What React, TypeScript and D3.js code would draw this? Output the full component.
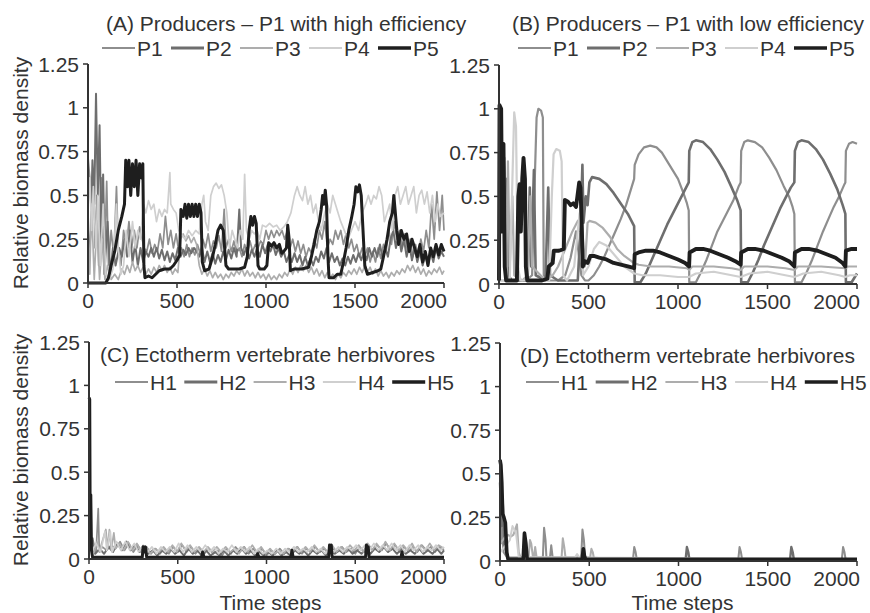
import React from 'react';
import * as d3 from 'd3';

type Pt = [number, number];

// ---------- categories / ticks ----------
const producerNames = ['P1', 'P2', 'P3', 'P4', 'P5'];
const herbivoreNames = ['H1', 'H2', 'H3', 'H4', 'H5'];
const xTickValues = [0, 500, 1000, 1500, 2000];
const yTickValues = [0, 0.25, 0.5, 0.75, 1, 1.25];
const titleA = '(A) Producers – P1 with high efficiency';
const titleB = '(B) Producers – P1 with low efficiency';
const titleC = '(C) Ectotherm vertebrate herbivores';
const titleD = '(D) Ectotherm vertebrate herbivores';
const yAxisLabel = 'Relative biomass density';
const xAxisLabel = 'Time steps';

// ---------- (A) producers, high efficiency ----------
const A_P1: Pt[] = [[0,0.72],[10,0.6],[20,0.35],[30,0.65],[40,0.2],[50,0.5],[60,0.1],[75,0.6],[90,0.05],[105,0.58],[115,0.1],[130,0.3],[145,0.15],[160,0.55],[170,0.2],[185,0.1],[200,0.3],[215,0.2],[230,0.35],[245,0.2],[260,0.3],[275,0.2],[290,0.32],[305,0.25],[315,0.2],[330,0.18],[345,0.25],[360,0.17],[375,0.22],[390,0.18],[405,0.28],[420,0.2],[435,0.38],[450,0.22],[465,0.3],[480,0.2],[495,0.28],[510,0.18],[525,0.2],[540,0.15],[555,0.22],[570,0.15],[585,0.2],[600,0.16],[615,0.22],[630,0.17],[645,0.25],[660,0.2],[675,0.28],[690,0.18],[705,0.24],[720,0.2],[735,0.27],[750,0.18],[765,0.42],[775,0.2],[790,0.25],[805,0.18],[820,0.24],[835,0.17],[850,0.2],[865,0.15],[880,0.22],[895,0.17],[910,0.24],[925,0.18],[940,0.22],[955,0.2],[970,0.24],[985,0.22],[1000,0.3],[1015,0.25],[1030,0.3],[1045,0.26],[1060,0.3],[1075,0.27],[1090,0.3],[1105,0.25],[1120,0.3],[1135,0.2],[1150,0.25],[1165,0.18],[1180,0.24],[1195,0.17],[1210,0.22],[1225,0.15],[1240,0.2],[1255,0.17],[1270,0.25],[1285,0.2],[1300,0.3],[1315,0.25],[1330,0.35],[1345,0.2],[1360,0.25],[1375,0.22],[1390,0.3],[1405,0.25],[1420,0.3],[1435,0.22],[1450,0.28],[1465,0.2],[1480,0.25],[1495,0.18],[1510,0.22],[1525,0.15],[1540,0.2],[1555,0.15],[1570,0.2],[1585,0.12],[1600,0.18],[1615,0.12],[1630,0.2],[1645,0.14],[1660,0.22],[1675,0.18],[1690,0.3],[1705,0.22],[1720,0.35],[1735,0.25],[1750,0.3],[1765,0.2],[1780,0.28],[1795,0.18],[1810,0.25],[1825,0.15],[1840,0.22],[1855,0.15],[1870,0.25],[1885,0.18],[1900,0.3],[1915,0.2],[1930,0.45],[1945,0.25],[1960,0.52],[1975,0.3],[1990,0.5],[2000,0.3]];
const A_P2: Pt[] = [[0,0.05],[15,0.3],[25,0.7],[35,0.45],[45,1.08],[55,0.5],[65,0.9],[75,0.2],[85,0.62],[95,0.1],[110,0.35],[125,0.05],[140,0.2],[155,0.1],[175,0.2],[190,0.15],[205,0.25],[220,0.15],[235,0.3],[250,0.12],[265,0.22],[280,0.1],[295,0.2],[310,0.12],[325,0.18],[340,0.15],[355,0.2],[370,0.15],[385,0.2],[400,0.14],[415,0.19],[430,0.13],[445,0.18],[460,0.12],[475,0.17],[490,0.13],[505,0.2],[520,0.15],[535,0.19],[550,0.16],[565,0.2],[580,0.17],[595,0.2],[610,0.18],[625,0.15],[640,0.2],[655,0.12],[670,0.18],[685,0.12],[700,0.17],[715,0.11],[730,0.16],[745,0.12],[760,0.18],[775,0.13],[790,0.19],[805,0.14],[820,0.2],[835,0.15],[850,0.42],[860,0.2],[875,0.16],[890,0.2],[905,0.14],[920,0.19],[935,0.15],[950,0.2],[965,0.15],[980,0.22],[995,0.17],[1010,0.22],[1025,0.18],[1040,0.22],[1055,0.16],[1070,0.2],[1085,0.15],[1100,0.18],[1115,0.12],[1130,0.16],[1145,0.12],[1160,0.17],[1175,0.12],[1190,0.16],[1205,0.1],[1220,0.15],[1235,0.1],[1250,0.14],[1265,0.1],[1280,0.15],[1295,0.12],[1310,0.18],[1325,0.14],[1340,0.2],[1355,0.12],[1370,0.17],[1385,0.12],[1400,0.15],[1415,0.1],[1430,0.14],[1445,0.1],[1460,0.15],[1475,0.11],[1490,0.16],[1505,0.12],[1520,0.17],[1535,0.13],[1550,0.18],[1565,0.13],[1580,0.2],[1595,0.15],[1610,0.2],[1625,0.15],[1640,0.22],[1655,0.14],[1670,0.2],[1685,0.15],[1700,0.25],[1715,0.3],[1730,0.2],[1745,0.28],[1760,0.18],[1775,0.25],[1790,0.15],[1805,0.22],[1820,0.13],[1835,0.2],[1850,0.12],[1865,0.18],[1880,0.1],[1895,0.16],[1910,0.1],[1925,0.18],[1940,0.12],[1955,0.2],[1970,0.14],[1985,0.18],[2000,0.15]];
const A_P3: Pt[] = [[0,0.3],[10,0.05],[20,0.45],[35,0.02],[50,0.35],[65,0.02],[80,0.25],[95,0.02],[110,0.1],[130,0.02],[150,0.05],[170,0.02],[190,0.08],[205,0.05],[220,0.1],[235,0.06],[250,0.12],[265,0.07],[280,0.1],[295,0.06],[310,0.09],[325,0.05],[340,0.08],[355,0.05],[370,0.09],[385,0.06],[400,0.1],[415,0.07],[430,0.1],[445,0.06],[460,0.09],[475,0.05],[490,0.08],[505,0.06],[520,0.25],[535,0.28],[550,0.24],[565,0.27],[580,0.23],[595,0.26],[610,0.22],[625,0.1],[640,0.05],[655,0.08],[670,0.04],[685,0.07],[700,0.03],[715,0.06],[730,0.03],[745,0.05],[760,0.02],[775,0.05],[790,0.03],[805,0.06],[820,0.04],[835,0.07],[850,0.05],[865,0.08],[880,0.04],[895,0.07],[910,0.04],[925,0.06],[940,0.03],[955,0.06],[970,0.03],[985,0.05],[1000,0.02],[1015,0.05],[1030,0.02],[1045,0.04],[1060,0.02],[1075,0.05],[1090,0.03],[1105,0.06],[1120,0.04],[1135,0.08],[1150,0.05],[1165,0.09],[1180,0.06],[1195,0.1],[1210,0.07],[1225,0.1],[1240,0.06],[1255,0.09],[1270,0.05],[1285,0.08],[1300,0.04],[1315,0.07],[1330,0.03],[1345,0.06],[1360,0.03],[1375,0.05],[1390,0.02],[1405,0.05],[1420,0.03],[1435,0.06],[1450,0.04],[1465,0.07],[1480,0.05],[1495,0.08],[1510,0.05],[1525,0.09],[1540,0.06],[1555,0.1],[1570,0.06],[1585,0.09],[1600,0.05],[1615,0.08],[1630,0.04],[1645,0.07],[1660,0.04],[1675,0.06],[1690,0.03],[1705,0.06],[1720,0.04],[1735,0.07],[1750,0.05],[1765,0.08],[1780,0.06],[1795,0.1],[1810,0.07],[1825,0.1],[1840,0.06],[1855,0.09],[1870,0.05],[1885,0.08],[1900,0.04],[1915,0.07],[1930,0.05],[1945,0.08],[1960,0.06],[1975,0.09],[1990,0.05],[2000,0.07]];
const A_P4: Pt[] = [[0,0.45],[10,0.6],[20,0.3],[30,0.55],[45,0.2],[55,0.5],[70,0.1],[85,0.45],[100,0.05],[120,0.02],[140,0.08],[160,0.45],[170,0.2],[185,0.05],[200,0.1],[215,0.3],[230,0.15],[250,0.35],[265,0.2],[280,0.3],[295,0.25],[312,0.45],[325,0.4],[340,0.47],[355,0.42],[370,0.45],[385,0.35],[400,0.42],[415,0.38],[430,0.42],[445,0.4],[455,0.55],[460,0.63],[465,0.45],[480,0.42],[495,0.4],[510,0.3],[525,0.28],[545,0.25],[565,0.3],[585,0.27],[605,0.3],[625,0.28],[640,0.45],[650,0.5],[660,0.35],[675,0.3],[690,0.5],[705,0.55],[720,0.57],[735,0.54],[750,0.56],[765,0.5],[780,0.4],[795,0.2],[810,0.3],[825,0.25],[840,0.2],[855,0.3],[870,0.25],[880,0.62],[890,0.3],[905,0.25],[920,0.3],[935,0.28],[950,0.3],[965,0.25],[980,0.33],[1000,0.32],[1020,0.34],[1040,0.32],[1060,0.33],[1080,0.3],[1100,0.32],[1120,0.35],[1140,0.4],[1160,0.5],[1175,0.55],[1190,0.5],[1205,0.47],[1220,0.55],[1235,0.45],[1250,0.5],[1265,0.4],[1280,0.45],[1295,0.35],[1310,0.3],[1330,0.4],[1345,0.45],[1360,0.4],[1375,0.5],[1390,0.45],[1405,0.4],[1420,0.35],[1440,0.3],[1460,0.25],[1480,0.3],[1500,0.35],[1520,0.3],[1540,0.4],[1560,0.45],[1575,0.5],[1590,0.45],[1605,0.5],[1620,0.48],[1635,0.55],[1650,0.5],[1665,0.35],[1680,0.4],[1695,0.45],[1710,0.3],[1725,0.5],[1740,0.55],[1755,0.45],[1770,0.5],[1785,0.55],[1800,0.45],[1815,0.5],[1830,0.55],[1845,0.4],[1860,0.5],[1875,0.53],[1890,0.45],[1905,0.52],[1920,0.4],[1935,0.5],[1950,0.35],[1965,0.45],[1980,0.38],[2000,0.4]];
const A_P5: Pt[] = [[0,0],[100,0],[115,0.03],[130,0.1],[150,0.18],[170,0.3],[190,0.38],[205,0.45],[212,0.7],[222,0.55],[230,0.7],[240,0.5],[250,0.68],[260,0.55],[270,0.7],[280,0.5],[290,0.68],[300,0.6],[308,0.68],[314,0.1],[320,0.03],[340,0.04],[360,0.03],[380,0.05],[400,0.07],[430,0.08],[460,0.08],[480,0.1],[500,0.13],[515,0.16],[522,0.42],[535,0.38],[545,0.45],[555,0.37],[565,0.45],[575,0.38],[585,0.45],[595,0.38],[605,0.45],[615,0.38],[625,0.45],[635,0.4],[642,0.12],[655,0.07],[680,0.08],[700,0.15],[715,0.22],[730,0.3],[745,0.33],[760,0.3],[775,0.1],[790,0.08],[820,0.08],[850,0.08],[880,0.09],[895,0.15],[905,0.3],[915,0.38],[925,0.33],[935,0.38],[945,0.34],[955,0.1],[965,0.08],[990,0.08],[1005,0.1],[1015,0.23],[1030,0.21],[1045,0.23],[1060,0.2],[1075,0.22],[1088,0.17],[1100,0.18],[1115,0.2],[1122,0.33],[1130,0.25],[1137,0.07],[1160,0.08],[1200,0.08],[1240,0.09],[1255,0.15],[1270,0.22],[1285,0.3],[1300,0.35],[1310,0.42],[1318,0.5],[1325,0.45],[1333,0.53],[1340,0.45],[1348,0.15],[1354,0.03],[1380,0.03],[1400,0.05],[1420,0.05],[1435,0.12],[1450,0.2],[1465,0.3],[1480,0.37],[1495,0.45],[1505,0.55],[1515,0.52],[1525,0.56],[1535,0.5],[1545,0.3],[1555,0.1],[1570,0.05],[1600,0.06],[1630,0.07],[1645,0.08],[1660,0.15],[1680,0.25],[1695,0.35],[1710,0.4],[1718,0.5],[1725,0.42],[1735,0.3],[1745,0.22],[1760,0.3],[1775,0.25],[1790,0.28],[1805,0.18],[1820,0.25],[1835,0.2],[1850,0.15],[1865,0.22],[1880,0.12],[1895,0.18],[1910,0.1],[1925,0.2],[1940,0.15],[1955,0.22],[1970,0.16],[1985,0.22],[2000,0.18]];

// ---------- (B) producers, low efficiency ----------
const B_P1: Pt[] = [[0,0.02],[10,0.75],[20,0.3],[30,0.72],[40,0.05],[60,0.02],[150,0.02],[185,0.05],[200,0.6],[210,0.95],[220,1.0],[235,0.99],[245,0.95],[250,0.05],[270,0.02],[330,0.02],[370,0.05],[400,0.15],[430,0.3],[460,0.05],[480,0.02],[500,0.02],[530,0.05],[560,0.1],[590,0.16],[620,0.23],[650,0.3],[680,0.37],[710,0.45],[740,0.55],[755,0.6],[758,0.68],[780,0.74],[810,0.78],[845,0.79],[880,0.78],[910,0.75],[940,0.7],[970,0.65],[1000,0.6],[1030,0.52],[1050,0.46],[1060,0.42],[1063,0.01],[1100,0.01],[1130,0.07],[1160,0.14],[1190,0.22],[1220,0.3],[1250,0.36],[1280,0.42],[1310,0.48],[1340,0.56],[1350,0.58],[1353,0.76],[1370,0.81],[1390,0.82],[1430,0.81],[1470,0.78],[1510,0.72],[1550,0.65],[1590,0.56],[1620,0.5],[1640,0.44],[1650,0.4],[1653,0.01],[1690,0.01],[1720,0.07],[1750,0.14],[1780,0.22],[1810,0.3],[1840,0.37],[1870,0.44],[1900,0.5],[1930,0.57],[1935,0.58],[1938,0.76],[1955,0.8],[1975,0.81],[2000,0.8]];
const B_P2: Pt[] = [[0,0.05],[5,0.76],[15,0.7],[25,0.76],[35,0.2],[45,0.6],[55,0.05],[70,0.02],[160,0.02],[172,0.55],[180,0.1],[195,0.65],[205,0.05],[260,0.02],[275,0.55],[285,0.05],[330,0.02],[440,0.02],[455,0.3],[466,0.68],[472,0.35],[485,0.5],[495,0.45],[505,0.58],[520,0.61],[560,0.6],[600,0.57],[640,0.52],[680,0.46],[720,0.4],[750,0.34],[755,0.33],[758,0.01],[790,0.01],[820,0.06],[850,0.13],[880,0.2],[910,0.27],[940,0.34],[970,0.4],[1000,0.46],[1030,0.52],[1060,0.58],[1063,0.76],[1080,0.81],[1100,0.82],[1140,0.81],[1180,0.77],[1220,0.71],[1260,0.64],[1300,0.55],[1330,0.48],[1350,0.42],[1353,0.01],[1390,0.01],[1420,0.07],[1450,0.14],[1480,0.22],[1510,0.29],[1540,0.36],[1570,0.43],[1600,0.49],[1630,0.55],[1650,0.58],[1653,0.76],[1670,0.81],[1690,0.82],[1730,0.81],[1770,0.77],[1810,0.71],[1850,0.63],[1890,0.54],[1920,0.45],[1935,0.4],[1938,0.01],[1970,0.01],[2000,0.06]];
const B_P3: Pt[] = [[0,0.02],[40,0.02],[50,0.7],[60,0.1],[75,0.5],[85,0.05],[130,0.02],[160,0.05],[175,0.5],[185,0.1],[260,0.02],[300,0.05],[330,0.1],[370,0.2],[410,0.3],[440,0.36],[460,0.38],[480,0.1],[495,0.35],[505,0.36],[540,0.35],[580,0.32],[620,0.27],[660,0.2],[700,0.16],[740,0.13],[755,0.12],[780,0.11],[850,0.1],[950,0.1],[1050,0.09],[1062,0.08],[1080,0.1],[1200,0.1],[1300,0.09],[1350,0.08],[1370,0.1],[1500,0.1],[1600,0.09],[1650,0.08],[1670,0.1],[1800,0.1],[1935,0.09],[1950,0.1],[2000,0.1]];
const B_P4: Pt[] = [[0,0.02],[60,0.02],[75,0.6],[85,0.98],[95,0.9],[105,0.1],[120,0.02],[280,0.02],[295,0.5],[305,0.74],[320,0.77],[340,0.76],[350,0.7],[358,0.05],[380,0.02],[420,0.1],[450,0.4],[462,0.45],[470,0.05],[500,0.1],[530,0.2],[560,0.24],[600,0.22],[650,0.16],[700,0.1],[755,0.06],[800,0.05],[900,0.05],[1000,0.04],[1062,0.04],[1100,0.06],[1200,0.07],[1300,0.05],[1350,0.04],[1400,0.06],[1500,0.07],[1600,0.05],[1650,0.04],[1700,0.06],[1800,0.07],[1900,0.05],[1935,0.04],[1960,0.05],[2000,0.05]];
const B_P5: Pt[] = [[0,0.02],[3,1.02],[12,1.0],[18,0.3],[25,0.8],[32,0.1],[40,0.02],[100,0.02],[108,0.5],[115,0.57],[122,0.3],[130,0.6],[137,0.72],[145,0.6],[150,0.1],[158,0.02],[240,0.02],[270,0.03],[278,0.1],[300,0.12],[306,0.19],[335,0.19],[362,0.2],[368,0.48],[385,0.47],[400,0.45],[415,0.46],[430,0.44],[438,0.5],[448,0.58],[455,0.55],[462,0.35],[468,0.1],[480,0.13],[495,0.12],[510,0.16],[530,0.16],[560,0.15],[600,0.14],[640,0.12],[680,0.11],[720,0.1],[755,0.09],[758,0.17],[780,0.18],[820,0.19],[860,0.19],[900,0.18],[950,0.16],[1000,0.14],[1040,0.12],[1062,0.1],[1065,0.18],[1100,0.2],[1140,0.2],[1180,0.19],[1230,0.17],[1280,0.15],[1320,0.13],[1350,0.11],[1353,0.18],[1390,0.2],[1430,0.2],[1480,0.19],[1530,0.17],[1580,0.15],[1620,0.13],[1650,0.1],[1653,0.18],[1690,0.2],[1730,0.2],[1780,0.19],[1830,0.17],[1880,0.15],[1920,0.12],[1935,0.1],[1938,0.19],[1970,0.2],[2000,0.2]];

// ---------- (C) herbivores ----------
const C_H1: Pt[] = [[0,0.1],[10,0.05],[25,0.08],[40,0.04],[52,0.29],[58,0.04],[75,0.07],[100,0.05],[125,0.08],[150,0.06],[175,0.1],[200,0.05],[225,0.09],[250,0.04],[275,0.08],[300,0.04],[325,0.07],[350,0.03],[375,0.06],[400,0.03],[425,0.06],[450,0.03],[475,0.07],[500,0.04],[525,0.08],[550,0.04],[575,0.07],[600,0.03],[625,0.06],[650,0.03],[675,0.06],[700,0.03],[725,0.05],[750,0.02],[775,0.06],[800,0.03],[825,0.07],[850,0.04],[875,0.07],[900,0.03],[925,0.06],[950,0.03],[975,0.06],[1000,0.02],[1025,0.05],[1050,0.03],[1075,0.06],[1100,0.03],[1125,0.06],[1150,0.04],[1175,0.07],[1200,0.03],[1225,0.06],[1250,0.04],[1275,0.07],[1300,0.04],[1325,0.06],[1350,0.03],[1375,0.06],[1400,0.04],[1425,0.07],[1450,0.04],[1475,0.06],[1500,0.03],[1525,0.07],[1550,0.04],[1575,0.08],[1600,0.05],[1625,0.08],[1650,0.05],[1675,0.09],[1700,0.05],[1725,0.08],[1750,0.04],[1775,0.07],[1800,0.04],[1825,0.07],[1850,0.04],[1875,0.08],[1900,0.05],[1925,0.07],[1950,0.04],[1975,0.07],[2000,0.05]];
const C_H2: Pt[] = [[0,0.3],[6,0.05],[20,0.12],[35,0.03],[60,0.06],[85,0.03],[110,0.07],[135,0.04],[160,0.09],[185,0.05],[210,0.1],[235,0.05],[260,0.08],[285,0.04],[310,0.06],[335,0.03],[360,0.05],[385,0.02],[410,0.05],[435,0.03],[460,0.06],[485,0.03],[510,0.05],[535,0.02],[560,0.06],[585,0.03],[610,0.05],[635,0.02],[660,0.05],[685,0.02],[710,0.04],[735,0.02],[760,0.05],[785,0.02],[810,0.05],[835,0.03],[860,0.06],[885,0.03],[910,0.05],[935,0.02],[960,0.04],[985,0.02],[1010,0.04],[1035,0.02],[1060,0.05],[1085,0.02],[1110,0.04],[1135,0.02],[1160,0.05],[1185,0.03],[1210,0.05],[1235,0.02],[1260,0.05],[1285,0.03],[1310,0.05],[1335,0.02],[1360,0.05],[1385,0.03],[1410,0.05],[1435,0.03],[1460,0.06],[1485,0.03],[1510,0.05],[1535,0.03],[1560,0.06],[1585,0.03],[1610,0.06],[1635,0.04],[1660,0.07],[1685,0.04],[1710,0.06],[1735,0.03],[1760,0.06],[1785,0.03],[1810,0.05],[1835,0.03],[1860,0.06],[1885,0.03],[1910,0.05],[1935,0.03],[1960,0.06],[1985,0.03],[2000,0.05]];
const C_H3: Pt[] = [[0,0.05],[15,0.08],[30,0.04],[45,0.1],[60,0.05],[80,0.12],[95,0.17],[105,0.06],[115,0.17],[125,0.05],[140,0.15],[150,0.06],[170,0.09],[195,0.05],[220,0.1],[245,0.05],[270,0.09],[295,0.04],[320,0.07],[345,0.03],[370,0.06],[395,0.04],[420,0.07],[445,0.04],[470,0.08],[495,0.04],[520,0.09],[545,0.05],[570,0.08],[595,0.04],[620,0.07],[645,0.04],[670,0.07],[695,0.04],[720,0.07],[745,0.04],[770,0.07],[795,0.04],[820,0.06],[845,0.03],[870,0.07],[895,0.04],[920,0.08],[945,0.04],[970,0.07],[995,0.03],[1020,0.06],[1045,0.03],[1070,0.05],[1095,0.03],[1120,0.06],[1145,0.04],[1170,0.07],[1195,0.04],[1220,0.07],[1245,0.04],[1270,0.08],[1295,0.04],[1320,0.07],[1345,0.04],[1370,0.08],[1395,0.04],[1420,0.07],[1445,0.04],[1470,0.08],[1495,0.05],[1520,0.08],[1545,0.04],[1570,0.09],[1595,0.05],[1620,0.09],[1645,0.05],[1670,0.1],[1695,0.05],[1720,0.09],[1745,0.05],[1770,0.08],[1795,0.05],[1820,0.09],[1845,0.04],[1870,0.08],[1895,0.05],[1920,0.09],[1945,0.05],[1970,0.08],[2000,0.06]];
const C_H4: Pt[] = [[0,0.08],[20,0.05],[40,0.09],[65,0.04],[90,0.16],[100,0.05],[120,0.16],[130,0.04],[155,0.1],[180,0.05],[205,0.1],[230,0.05],[255,0.09],[280,0.04],[305,0.08],[330,0.04],[355,0.07],[380,0.03],[405,0.07],[430,0.04],[455,0.07],[480,0.04],[505,0.09],[530,0.04],[555,0.08],[580,0.04],[605,0.07],[630,0.04],[655,0.08],[680,0.04],[705,0.07],[730,0.03],[755,0.06],[780,0.04],[805,0.08],[830,0.04],[855,0.07],[880,0.04],[905,0.07],[930,0.03],[955,0.06],[980,0.03],[1005,0.05],[1030,0.03],[1055,0.06],[1080,0.03],[1105,0.06],[1130,0.04],[1155,0.07],[1180,0.04],[1205,0.06],[1230,0.04],[1255,0.07],[1280,0.04],[1305,0.06],[1330,0.03],[1355,0.06],[1380,0.04],[1405,0.07],[1430,0.04],[1455,0.07],[1480,0.05],[1505,0.08],[1530,0.05],[1555,0.08],[1580,0.05],[1605,0.09],[1630,0.05],[1655,0.08],[1680,0.05],[1705,0.09],[1730,0.05],[1755,0.08],[1780,0.04],[1805,0.08],[1830,0.05],[1855,0.08],[1880,0.04],[1905,0.07],[1930,0.05],[1955,0.08],[1980,0.05],[2000,0.07]];
const C_H5: Pt[] = [[0,0.93],[4,0.92],[7,0.1],[10,0.37],[14,0.05],[20,0.01],[300,0.01],[305,0.07],[312,0.04],[318,0.07],[325,0.01],[635,0.01],[640,0.04],[648,0.01],[945,0.01],[950,0.03],[958,0.01],[1138,0.01],[1143,0.05],[1150,0.01],[1350,0.01],[1355,0.08],[1360,0.04],[1365,0.08],[1370,0.01],[1558,0.01],[1563,0.08],[1568,0.05],[1573,0.07],[1578,0.01],[1758,0.01],[1763,0.04],[1770,0.01],[2000,0.01]];

// ---------- (D) herbivores ----------
const D_H1: Pt[] = [[0,0.3],[5,0.1],[10,0.2],[20,0.05],[40,0.02],[240,0.02],[247,0.19],[255,0.12],[260,0.02],[280,0.02],[287,0.09],[295,0.02],[455,0.02],[462,0.18],[470,0.12],[477,0.02],[745,0.01],[752,0.08],[760,0.05],[766,0.01],[1335,0.01],[1342,0.08],[1350,0.05],[1356,0.01],[1915,0.01],[1922,0.08],[1930,0.05],[1936,0.01],[2000,0.01]];
const D_H2: Pt[] = [[0,0.45],[8,0.2],[15,0.35],[25,0.1],[35,0.05],[45,0.01],[1040,0.01],[1047,0.08],[1055,0.05],[1061,0.01],[1625,0.01],[1632,0.08],[1640,0.05],[1646,0.01],[2000,0.01]];
const D_H3: Pt[] = [[0,0.1],[30,0.14],[45,0.15],[60,0.14],[75,0.15],[95,0.21],[105,0.05],[115,0.02],[160,0.02],[168,0.12],[175,0.1],[185,0.02],[190,0.02],[197,0.08],[205,0.02],[345,0.02],[352,0.13],[360,0.08],[367,0.02],[505,0.02],[512,0.07],[520,0.05],[527,0.01],[2000,0.01]];
const D_H4: Pt[] = [[0,0.05],[40,0.1],[55,0.12],[70,0.2],[90,0.16],[105,0.02],[420,0.02],[432,0.04],[445,0.02],[2000,0.01]];
const D_H5: Pt[] = [[0,0.58],[5,0.55],[10,0.45],[15,0.27],[22,0.25],[30,0.22],[38,0.05],[45,0.01],[130,0.01],[137,0.16],[145,0.1],[152,0.01],[460,0.01],[467,0.07],[473,0.03],[480,0.01],[2000,0.01]];

// ---------- styling ----------
const seriesColors = ['#8e8e8e', '#6e6e6e', '#adadad', '#cfcfcf', '#1e1e1e'];
const seriesWidths = [1.7, 2, 1.7, 1.7, 3];
const legendWidths = [2, 3, 2, 2.2, 3.5];
const textColor = '#333';
const axisColor = '#333';
const FONT = '"Liberation Sans", Arial, Helvetica, sans-serif';

interface PanelProps {
  series: Pt[][];
  names: string[];
  title: string;
  x0: number; x1: number; yBottom: number; yTop: number;
  titleX: number; titleY: number;
  legendX: number; legendY: number; legendStep: number;
  lineScale: number;
  showXLabel: boolean;
}

function Panel(p: PanelProps) {
  const x = d3.scaleLinear().domain([0, 2000]).range([p.x0, p.x1]);
  const y = d3.scaleLinear().domain([0, 1.25]).range([p.yBottom, p.yTop]);
  const line = d3.line<Pt>().x(d => x(d[0])).y(d => y(d[1]));
  const fs = 21;
  return (
    <g>
      {p.series.map((s, i) => (
        <path key={i} d={line(s) || ''} fill="none" stroke={seriesColors[i]}
          strokeWidth={seriesWidths[i] * p.lineScale} strokeLinejoin="round" />
      ))}
      {/* axes */}
      <line x1={p.x0} x2={p.x0} y1={y(1.25)} y2={y(0)} stroke={axisColor} strokeWidth={2} />
      <line x1={p.x0} x2={p.x1} y1={y(0)} y2={y(0)} stroke={axisColor} strokeWidth={2} />
      {yTickValues.map(v => (
        <g key={'y' + v}>
          <line x1={p.x0 - 5} x2={p.x0} y1={y(v)} y2={y(v)} stroke={axisColor} strokeWidth={1.5} />
          <text x={p.x0 - 9} y={y(v)} dy="0.36em" textAnchor="end" fontSize={fs} fill={textColor} fontFamily={FONT}>{String(v)}</text>
        </g>
      ))}
      {xTickValues.map((v, i) => {
        const last = i === xTickValues.length - 1;
        return (
          <g key={'x' + v}>
            <line x1={x(v)} x2={x(v)} y1={y(0)} y2={y(0) + 5} stroke={axisColor} strokeWidth={1.5} />
            <text x={last ? x(v) + 3 : x(v)} y={y(0) + 25} textAnchor={last ? 'end' : 'middle'} fontSize={fs} fill={textColor} fontFamily={FONT}>{String(v)}</text>
          </g>
        );
      })}
      {/* title */}
      <text x={p.titleX} y={p.titleY} fontSize={fs} fill={textColor} fontFamily={FONT}>{p.title}</text>
      {/* legend */}
      {p.names.map((n, i) => {
        const lx = p.legendX + i * p.legendStep;
        return (
          <g key={n}>
            <line x1={lx} x2={lx + 33} y1={p.legendY} y2={p.legendY} stroke={seriesColors[i]} strokeWidth={legendWidths[i]} />
            <text x={lx + 35} y={p.legendY + 7.5} fontSize={fs} fill={textColor} fontFamily={FONT}>{n}</text>
          </g>
        );
      })}
      {p.showXLabel && (
        <text x={(p.x0 + p.x1) / 2 + 4} y={610} textAnchor="middle" fontSize={fs} fill={textColor} fontFamily={FONT}>{xAxisLabel}</text>
      )}
    </g>
  );
}

export default function App() {
  return (
    <svg width={870} height={613} style={{ position: 'absolute', left: 0, top: 0, background: '#fff' }}>
      <rect x={0} y={0} width={870} height={613} fill="#fff" />
      <Panel series={[A_P1, A_P2, A_P3, A_P4, A_P5]} names={producerNames} title={titleA}
        x0={88} x1={444} yBottom={283} yTop={64} titleX={106} titleY={31}
        legendX={102} legendY={48} legendStep={69} lineScale={1} showXLabel={false} />
      <Panel series={[B_P1, B_P2, B_P3, B_P4, B_P5]} names={producerNames} title={titleB}
        x0={499} x1={857} yBottom={284} yTop={65} titleX={512} titleY={31}
        legendX={518} legendY={48} legendStep={69} lineScale={1.3} showXLabel={false} />
      <Panel series={[C_H1, C_H2, C_H3, C_H4, C_H5]} names={herbivoreNames} title={titleC}
        x0={89} x1={444} yBottom={559} yTop={342} titleX={100} titleY={362}
        legendX={115} legendY={382} legendStep={69.3} lineScale={1} showXLabel={true} />
      <Panel series={[D_H1, D_H2, D_H3, D_H4, D_H5]} names={herbivoreNames} title={titleD}
        x0={500} x1={857} yBottom={561} yTop={343} titleX={520} titleY={363}
        legendX={526} legendY={382} legendStep={69.7} lineScale={1.2} showXLabel={true} />
      <text transform={`translate(28,173) rotate(-90)`} textAnchor="middle" fontSize={21} fill={textColor} fontFamily={FONT}>{yAxisLabel}</text>
      <text transform={`translate(28,450) rotate(-90)`} textAnchor="middle" fontSize={21} fill={textColor} fontFamily={FONT}>{yAxisLabel}</text>
    </svg>
  );
}
